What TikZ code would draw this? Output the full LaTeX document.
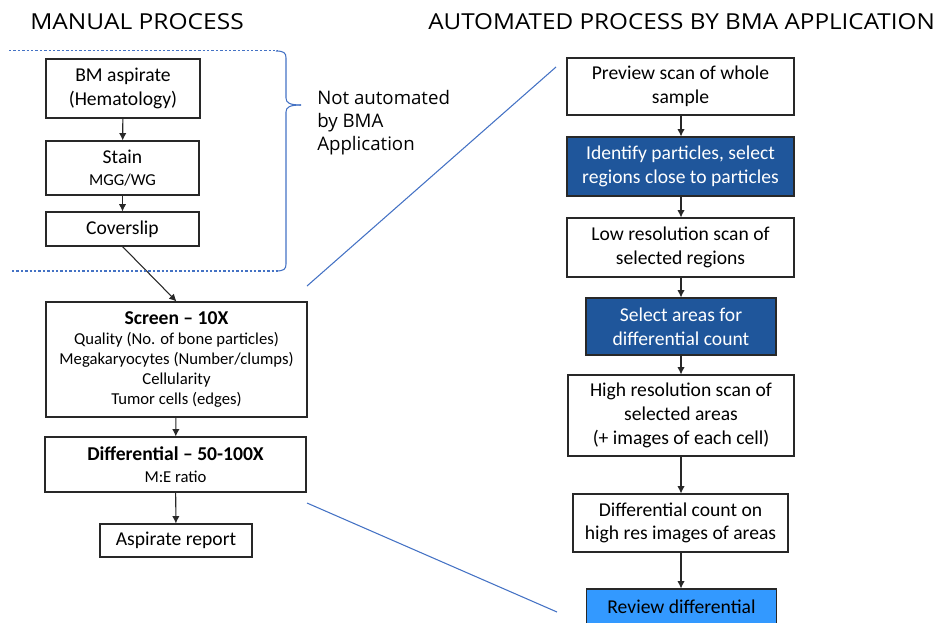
\documentclass[tikz,border=0pt]{standalone}
\usepackage{fontspec}
\setmainfont{Carlito}
\newfontfamily\headfont{Open Sans}
\usetikzlibrary{arrows.meta}
\definecolor{darkblue}{RGB}{31,86,155}
\definecolor{lightblue}{RGB}{51,153,255}
\definecolor{lineblue}{RGB}{68,114,196}
\definecolor{boxline}{RGB}{40,40,40}
\newcommand{\bigtxt}{\fontsize{14.7}{17.75}\selectfont}
\newcommand{\smalltxt}{\fontsize{12.5}{15}\selectfont}
\newcommand{\headtxt}[2]{\scalebox{#1}[1]{\headfont\fontsize{16.5}{19}\selectfont #2}}
\begin{document}
\begin{tikzpicture}[x=0.75pt,y=-0.75pt,
  box/.style={draw=boxline,line width=0.8pt,inner sep=0pt,align=center,font=\bigtxt},
  arr/.style={draw=boxline,line width=0.8pt,-{Latex[length=5.5pt,width=5.5pt]}},
  blueline/.style={draw=lineblue,line width=0.8pt},
  dashline/.style={draw=lineblue,line width=0.8pt,dash pattern=on 1.8pt off 1.5pt},
  heading/.style={anchor=west,inner sep=0pt},
  note/.style={anchor=north west,inner sep=0pt,align=left,font=\headfont\fontsize{14}{17.25}\selectfont}
]
\useasboundingbox (0,0) rectangle (937,622);

% headings
\node[heading] (h1) at (30,22) {\headtxt{1.115}{MANUAL PROCESS}};
\node[heading] (h2) at (428,22) {\headtxt{1.103}{AUTOMATED PROCESS BY BMA APPLICATION}};

% left column
\node[box,minimum width=154*0.75pt,minimum height=59*0.75pt] (bm) at (123,88.5) {BM aspirate\\(Hematology)};
\node[box,minimum width=153*0.75pt,minimum height=54*0.75pt] (stain) at (122.5,168) {Stain\\[-0.75pt]\smalltxt MGG/WG};
\node[box,minimum width=153*0.75pt,minimum height=34*0.75pt] (cover) at (122.5,229) {Coverslip};
\node[box,minimum width=261*0.75pt,minimum height=115*0.75pt] (screen) at (176.5,359.5)
  {\textbf{Screen – 10X}\\[-2.5pt]\smalltxt Quality (No. of bone particles)\\[-2.75pt]\smalltxt Megakaryocytes (Number/clumps)\\[-2.75pt]\smalltxt Cellularity\\[-2.75pt]\smalltxt Tumor cells (edges)};
\node[box,minimum width=261*0.75pt,minimum height=55*0.75pt] (diff) at (175.5,464.5)
  {\textbf{Differential – 50-100X}\\[-1.25pt]\smalltxt M:E ratio};
\node[box,minimum width=152*0.75pt,minimum height=33*0.75pt] (report) at (176,540.5) {Aspirate report};

\draw[arr] (bm) -- (stain);
\draw[arr] (stain) -- (cover);
\draw[arr] (cover.south) -- (screen.north);
\draw[arr] (screen) -- (diff);
\draw[arr] (diff) -- (report);

% bracket region
\draw[dashline] (9,50.5) -- (278,50.5);
\draw[dashline] (12,271) -- (278,271);
\coordinate (btop) at (276,51);
\coordinate (bbot) at (276,271);
\coordinate (btip) at (301,105);
\draw[blueline] (btop) .. controls (284,51) and (286,53) .. (286,58) -- (286,98)
  .. controls (286,103) and (290,105) .. (btip);
\draw[blueline] (btip) .. controls (290,105) and (286,107) .. (286,112) -- (286,264)
  .. controls (286,269) and (284,271) .. (bbot);
\node[note] (nota) at (317,90) {Not automated\\by BMA\\Application};

% right column
\node[box,minimum width=227*0.75pt,minimum height=57*0.75pt] (prev) at (680.5,86.5) {Preview scan of whole\\sample};
\node[box,fill=darkblue,text=white,minimum width=227*0.75pt,minimum height=59*0.75pt] (ident) at (680.5,166.5) {Identify particles, select\\regions close to particles};
\node[box,minimum width=227*0.75pt,minimum height=59*0.75pt] (low) at (680.5,247.5) {Low resolution scan of\\selected regions};
\node[box,fill=darkblue,text=white,minimum width=190*0.75pt,minimum height=57*0.75pt] (sel) at (681,326.5) {Select areas for\\differential count};
\node[box,minimum width=226*0.75pt,minimum height=81*0.75pt] (high) at (681,415.5) {High resolution scan of\\selected areas\\(+ images of each cell)};
\node[box,minimum width=215*0.75pt,minimum height=58*0.75pt] (dcount) at (680.5,523) {Differential count on\\high res images of areas};
\node[box,fill=lightblue,minimum width=190*0.75pt,minimum height=36*0.75pt] (review) at (681.5,607) {Review differential};

\draw[arr] (prev.south -| 681,0) -- (ident.north -| 681,0);
\draw[arr] (ident.south -| 681,0) -- (low.north -| 681,0);
\draw[arr] (low.south -| 681,0) -- (sel.north -| 681,0);
\draw[arr] (sel.south -| 681,0) -- (high.north -| 681,0);
\draw[arr] (high.south -| 681,0) -- (dcount.north -| 681,0);
\draw[arr] (dcount.south -| 681,0) -- (review.north -| 681,0);

% zoom lines
\coordinate (z1a) at (307,286);
\coordinate (z1b) at (556,67);
\coordinate (z2a) at (307,503);
\coordinate (z2b) at (557,612);
\draw[blueline] (z1a) -- (z1b);
\draw[blueline] (z2a) -- (z2b);
\end{tikzpicture}
\end{document}
